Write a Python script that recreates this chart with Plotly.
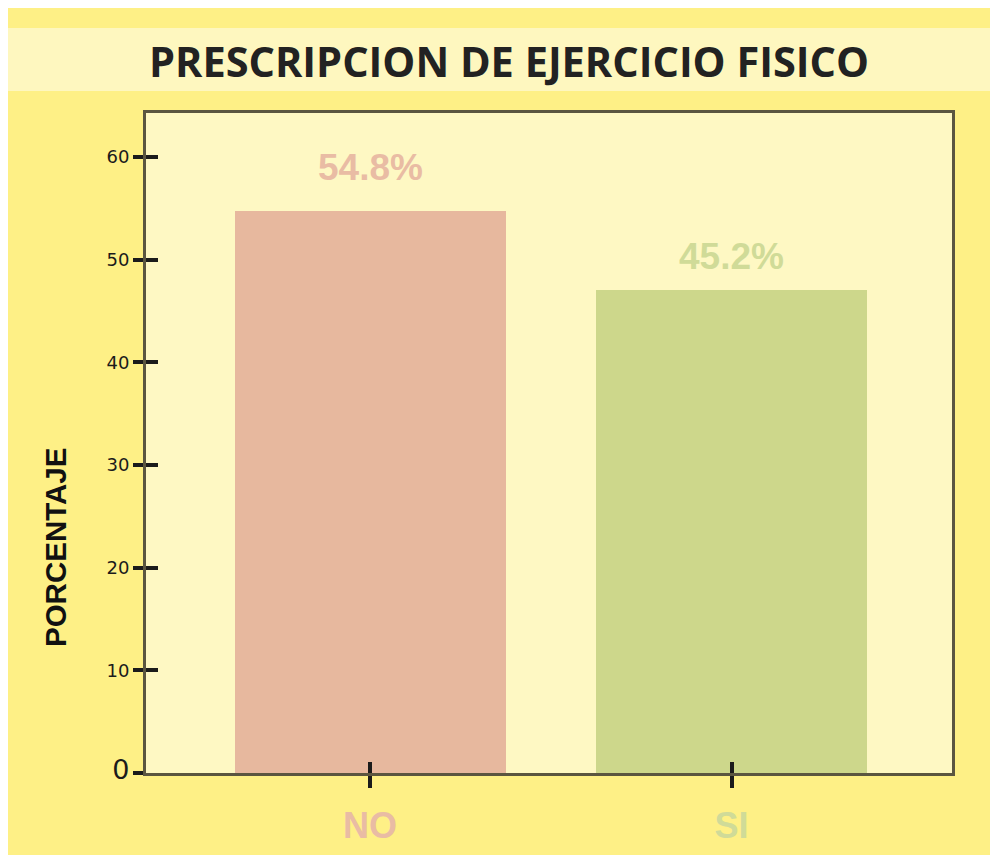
import plotly.graph_objects as go

# ---- data ----
categories = ["NO", "SI"]
values = [54.8, 47.1]
value_labels = ["54.8%", "45.2%"]
y_tickvals = [0, 10, 20, 30, 40, 50, 60]
y_ticktext = ["<span style='font-size:27px'>0</span>", "10", "20", "30", "40", "50", "60"]

# ---- styles ----
bar_colors = ["#E7B89E", "#CDD78B"]
label_colors = ["#E9BCA4", "#D0DB98"]
outer_bg = "#FEF086"
band_bg = "#FEF7BF"
plot_bg = "#FEF8C3"
frame = "#5B5640"
tick_col = "#1B1B1B"
label_shift = [43, 33]

x_range = [-0.62, 1.61]
y_range = [0, 64.3]

fig = go.Figure()
fig.add_trace(go.Bar(
    x=categories, y=values, marker=dict(color=bar_colors, line=dict(width=0)),
    width=0.75, hoverinfo="skip", showlegend=False,
))
# invisible trace binding the overlay axes (inner half of tick marks)
fig.add_trace(go.Scatter(
    x=categories, y=values, xaxis="x2", yaxis="y2", mode="markers",
    marker=dict(opacity=0), hoverinfo="skip", showlegend=False,
))

for cat, val, txt, col, sh in zip(categories, values, value_labels, label_colors, label_shift):
    fig.add_annotation(
        x=cat, y=val, text=txt, showarrow=False, yshift=sh,
        font=dict(family="Liberation Sans, Arial", size=37, color=col, weight="bold"),
    )

# y-axis title
fig.add_annotation(
    xref="paper", yref="paper", x=(47 - 138) / 806, y=(765 - 540) / 660,
    text="<b>PORCENTAJE</b>", textangle=-90, showarrow=False,
    xanchor="center", yanchor="middle",
    font=dict(family="Liberation Sans, Arial", size=29.5, color="#111111"),
)

fig.update_layout(
    width=990, height=847,
    margin=dict(l=138, r=46, t=105, b=82, autoexpand=False),
    paper_bgcolor=outer_bg, plot_bgcolor=plot_bg,
    bargap=0,
    title=dict(
        text="<b>PRESCRIPCION DE EJERCICIO FISICO</b>",
        font=dict(family="Open Sans", size=41.5, color="#222222"),
        x=501 / 990, xanchor="center", xref="container",
        y=1 - 54 / 847, yanchor="middle", yref="container",
    ),
    xaxis=dict(
        type="category", categoryorder="array", categoryarray=categories,
        range=x_range, showgrid=False, zeroline=False, automargin=False,
        showline=True, linecolor=frame, linewidth=3, mirror=True,
        ticks="outside", ticklen=12, tickwidth=4, tickcolor=tick_col,
        tickvals=categories,
        ticktext=[f"<span style='color:{c}'>{t}</span>" for t, c in zip(categories, label_colors)],
        tickfont=dict(family="Liberation Sans, Arial", size=36, weight="bold"),
        ticklabelstandoff=7,
    ),
    yaxis=dict(
        range=y_range, showgrid=False, zeroline=False, automargin=False,
        showline=True, linecolor=frame, linewidth=3, mirror=True,
        ticks="outside", ticklen=10, tickwidth=4, tickcolor=tick_col,
        tickvals=y_tickvals, ticktext=y_ticktext,
        tickfont=dict(family="DejaVu Sans", size=18, color="#1B1B1B"),
    ),
    xaxis2=dict(
        overlaying="x", type="category", categoryorder="array", categoryarray=categories,
        range=x_range, showgrid=False, zeroline=False, showline=False, automargin=False,
        ticks="inside", ticklen=11, tickwidth=4, tickcolor=tick_col,
        tickvals=categories, showticklabels=False, side="bottom",
    ),
    yaxis2=dict(
        overlaying="y", range=y_range, showgrid=False, zeroline=False, showline=False,
        automargin=False,
        ticks="inside", ticklen=12, tickwidth=4, tickcolor=tick_col,
        tickvals=y_tickvals, showticklabels=False, side="left",
    ),
    shapes=[dict(
        type="rect", xref="paper", yref="paper", layer="below",
        x0=-138 / 806, x1=(990 - 138) / 806,
        y0=(765 - 83) / 660, y1=(765 - 20) / 660,
        fillcolor=band_bg, line=dict(width=0),
    )],
)

fig.write_html("out.html")
